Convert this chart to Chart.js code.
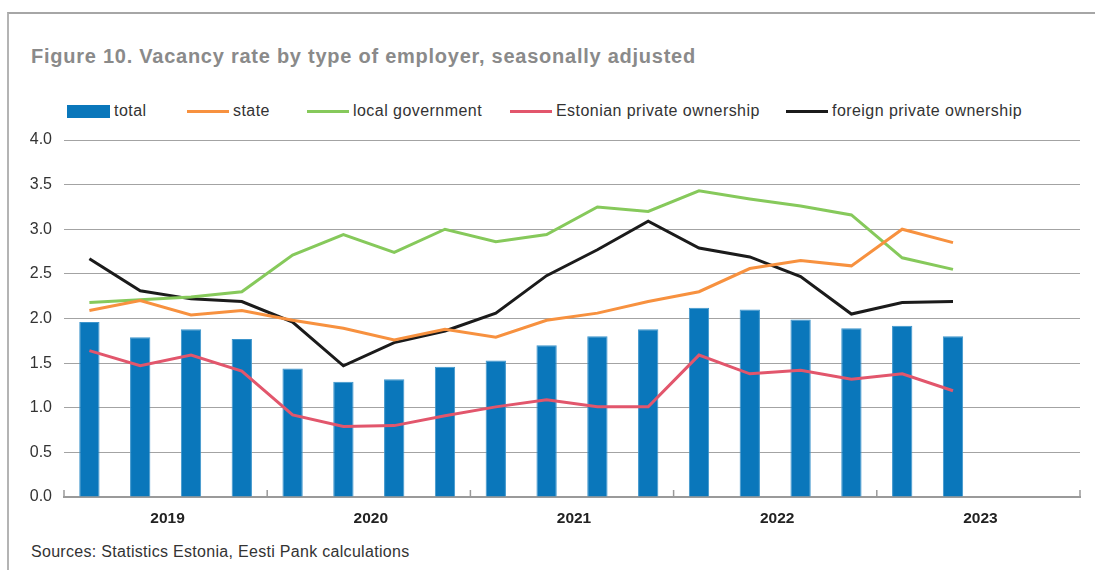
<!DOCTYPE html>
<html>
<head>
<meta charset="utf-8">
<script src="https://cdn.jsdelivr.net/npm/chart.js@4"></script>
<style>
  html, body { margin: 0; padding: 0; background: #fff; }
  body { width: 1095px; height: 570px; position: relative; overflow: hidden;
         font-family: "Liberation Sans", Arial, sans-serif; }
  .frame { position: absolute; left: 7px; top: 12px; width: 1100px; height: 570px;
           border-top: 2px solid #a6a6a6; border-left: 2px solid #b4b4b4; }
  .title { position: absolute; left: 31px; top: 45px; font-size: 20px; font-weight: bold;
           letter-spacing: 0.75px; color: #8a8a8a; white-space: nowrap; }
  .legend { position: absolute; top: 101px; height: 20px; font-size: 16px; color: #333;
            letter-spacing: 0.45px; white-space: nowrap; line-height: 20px; }
  .legend span.sw { display: inline-block; vertical-align: middle; margin-right: 4px; }
  .source { position: absolute; left: 31px; top: 543px; font-size: 16px; color: #333;
            letter-spacing: 0.3px; white-space: nowrap; }
  #chart { position: absolute; left: 0; top: 0; }
</style>
</head>
<body>
<div class="frame"></div>
<div class="title">Figure 10. Vacancy rate by type of employer, seasonally adjusted</div>
<div id="legend"></div>
<div class="source">Sources: Statistics Estonia, Eesti Pank calculations</div>
<canvas id="chart" width="1095" height="570"></canvas>
<script>
const years = ['2019', '2020', '2021', '2022', '2023'];
const quarters = ['Q1', 'Q2', 'Q3', 'Q4'];
const labels = years.flatMap(y => quarters.map(q => y + ' ' + q));

// vacancy rate, %, 2019 Q1 - 2023 Q2
const total = [1.96, 1.79, 1.88, 1.77, 1.44, 1.29, 1.32, 1.46, 1.53, 1.70, 1.80, 1.88, 2.12, 2.10, 1.99, 1.89, 1.92, 1.80];
const state = [2.09, 2.20, 2.04, 2.09, 1.98, 1.89, 1.76, 1.88, 1.79, 1.98, 2.06, 2.19, 2.30, 2.56, 2.65, 2.59, 3.00, 2.85];
const localGov = [2.18, 2.21, 2.24, 2.30, 2.71, 2.94, 2.74, 3.00, 2.86, 2.94, 3.25, 3.20, 3.43, 3.34, 3.26, 3.16, 2.68, 2.55];
const estPrivate = [1.64, 1.47, 1.59, 1.41, 0.92, 0.79, 0.80, 0.91, 1.01, 1.09, 1.01, 1.01, 1.59, 1.38, 1.42, 1.32, 1.38, 1.19];
const foreignPrivate = [2.67, 2.31, 2.22, 2.19, 1.96, 1.47, 1.73, 1.86, 2.06, 2.48, 2.77, 3.09, 2.79, 2.69, 2.47, 2.05, 2.18, 2.19];

const yTicks = [0, 0.5, 1, 1.5, 2, 2.5, 3, 3.5, 4];

const colors = {
  total: '#0a77bb',
  state: '#f7913f',
  local: '#86c95b',
  est: '#e2566c',
  foreign: '#1b1b1b'
};

function lineSet(label, data, color) {
  return {
    type: 'line', label, data, order: 1,
    borderColor: color, backgroundColor: color,
    borderWidth: 3, pointRadius: 0, tension: 0, fill: false
  };
}

// legend laid out by hand, bar swatch first then line swatches
const legendItems = [
  { text: 'total', color: colors.total, bar: true, left: 67 },
  { text: 'state', color: colors.state, left: 187 },
  { text: 'local government', color: colors.local, left: 307 },
  { text: 'Estonian private ownership', color: colors.est, left: 510 },
  { text: 'foreign private ownership', color: colors.foreign, left: 786 }
];
const legendBox = document.getElementById('legend');
legendItems.forEach(it => {
  const d = document.createElement('div');
  d.className = 'legend';
  d.style.left = it.left + 'px';
  const sw = document.createElement('span');
  sw.className = 'sw';
  sw.style.background = it.color;
  sw.style.width = (it.bar ? 43 : 42) + 'px';
  sw.style.height = (it.bar ? 13 : 3) + 'px';
  d.appendChild(sw);
  d.appendChild(document.createTextNode(it.text));
  legendBox.appendChild(d);
});

// year separators (short ticks pointing up) and year labels under the axis
const yearAxis = {
  id: 'yearAxis',
  afterDraw(chart) {
    const { ctx, chartArea, scales: { x } } = chart;
    const bottom = chartArea.bottom;
    ctx.save();
    ctx.strokeStyle = '#9a9a9a';
    ctx.lineWidth = 1.5;
    for (let k = 0; k <= years.length; k++) {
      let px;
      if (k === 0) px = chartArea.left;
      else if (k === years.length) px = chartArea.right;
      else px = (x.getPixelForValue(4 * k - 1) + x.getPixelForValue(4 * k)) / 2;
      ctx.beginPath();
      ctx.moveTo(px, bottom);
      ctx.lineTo(px, bottom - 7);
      ctx.stroke();
    }
    ctx.fillStyle = '#222';
    ctx.font = 'bold 15.5px "Liberation Sans", Arial, sans-serif';
    ctx.textAlign = 'center';
    ctx.textBaseline = 'middle';
    years.forEach((y, k) => {
      const px = (x.getPixelForValue(4 * k + 1) + x.getPixelForValue(4 * k + 2)) / 2;
      ctx.fillText(y, px + 2, bottom + 22);
    });
    ctx.restore();
  }
};

new Chart(document.getElementById('chart'), {
  type: 'bar',
  data: {
    labels,
    datasets: [
      lineSet('state', state, colors.state),
      lineSet('local government', localGov, colors.local),
      lineSet('Estonian private ownership', estPrivate, colors.est),
      lineSet('foreign private ownership', foreignPrivate, colors.foreign),
      {
        type: 'bar', label: 'total', data: total, order: 2,
        backgroundColor: colors.total,
        borderColor: '#3d95cc', borderWidth: { top: 1, left: 1, right: 1, bottom: 0 },
        categoryPercentage: 1, barPercentage: 0.4
      }
    ]
  },
  options: {
    responsive: false,
    animation: false,
    layout: { padding: { left: 0, top: 140, right: 15, bottom: 73 } },
    plugins: { legend: { display: false }, tooltip: { enabled: false } },
    scales: {
      x: {
        grid: { display: false },
        border: { display: true, color: '#9a9a9a', width: 2 },
        ticks: { display: false },
        afterFit: s => { s.height = 0; }
      },
      y: {
        min: 0, max: 4,
        afterBuildTicks: s => { s.ticks = yTicks.map(v => ({ value: v })); },
        afterFit: s => { s.width = 64; },
        grid: { color: '#a3a3a3', lineWidth: 1, drawTicks: false },
        border: { display: false },
        ticks: {
          padding: 12,
          color: '#333',
          font: { family: '"Liberation Sans", Arial, sans-serif', size: 16 },
          callback: v => v.toFixed(1)
        }
      }
    }
  },
  plugins: [yearAxis]
});
</script>
</body>
</html>
